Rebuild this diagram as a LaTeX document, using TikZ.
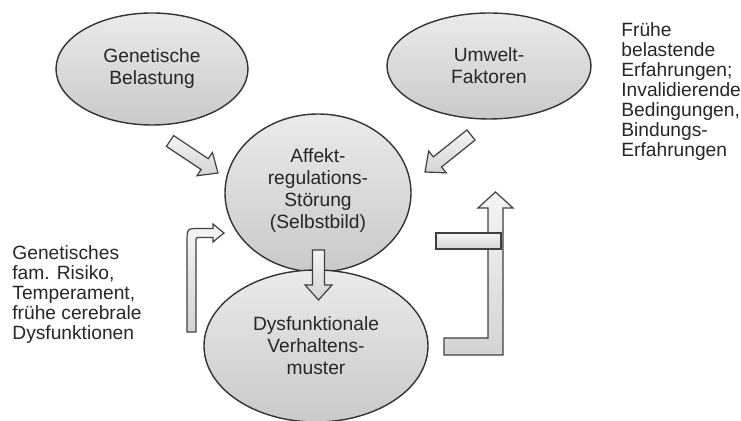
\documentclass[tikz,border=0pt]{standalone}
\usepackage{fontspec}
\setmainfont{Liberation Sans}
\usetikzlibrary{calc,shapes.geometric}

\tikzset{
  bubble/.style={ellipse, draw=black!80, line width=0.7pt, top color=gray!16, bottom color=gray!42,
    text=black!85, align=center, inner sep=0pt, font=\fontsize{9.6}{11}\selectfont},
  blockarrow/.style={draw=black!75, line width=0.6pt, top color=gray!8, bottom color=gray!34},
  sidetext/.style={align=left, inner sep=0pt, text=black!85, font=\fontsize{9.6}{10}\selectfont}
}

% block arrow: tail, tip, shaft half width, head half width, head length
\newcommand{\blockarrow}[5]{%
  \draw[blockarrow] ($(#1)!#3!90:(#2)$) -- ($(#2)!#5!(#1)!#3!90:(#2)$)
    -- ($(#2)!#5!(#1)!#4!90:(#2)$) -- (#2) -- ($(#2)!#5!(#1)!#4!-90:(#2)$)
    -- ($(#2)!#5!(#1)!#3!-90:(#2)$) -- ($(#1)!#3!-90:(#2)$) -- cycle;}

\begin{document}
\begin{tikzpicture}[x=0.5pt, y=-0.5pt]
  \useasboundingbox (0,0) rectangle (741,421);

  % Causes
  \node[bubble, minimum width=96pt, minimum height=56pt] (gen) at (152,69) {Genetische\\Belastung};
  \node[bubble, minimum width=102pt, minimum height=53pt] (umw) at (489,66) {Umwelt-\\Faktoren};

  % Core disturbance and behaviour
  \node[bubble, minimum width=93pt, minimum height=79pt] (aff) at (318,193) {\\[-7pt]Affekt-\\regulations-\\Störung\\(Selbstbild)};
  \node[bubble, minimum width=112pt, minimum height=76pt] (dys) at (316,346) {Dysfunktionale\\Verhaltens-\\muster};

  % Side texts
  \node[sidetext, anchor=west] (risk) at (12,295) {Genetisches\\fam. Risiko,\\Temperament,\\frühe cerebrale\\Dysfunktionen};
  \node[sidetext, anchor=west] (exp) at (621,92) {Frühe\\belastende\\Erfahrungen;\\Invalidierende\\Bedingungen,\\Bindungs-\\Erfahrungen};

  % Straight arrows
  \coordinate (genTail) at (170,141);
  \coordinate (genTip) at (218,173);
  \coordinate (umwTail) at (471,135);
  \coordinate (umwTip) at (425,172);
  \coordinate (affTail) at (318.5,250);
  \coordinate (affTip) at (318.5,300);
  \blockarrow{genTail}{genTip}{3.25pt}{7pt}{8pt}
  \blockarrow{umwTail}{umwTip}{3.25pt}{7pt}{8pt}
  \blockarrow{affTail}{affTip}{3pt}{6.75pt}{7.5pt}

  % Bent arrow from the left
  \coordinate (riskTip) at (224,233);
  \draw[blockarrow] (187,332) -- (187,243) .. controls (187,228.5) .. (199,228.5) -- (213,228.5)
    -- (213,224) -- (riskTip) -- (213,242) -- (213,237.5) -- (200,237.5)
    .. controls (196,237.5) .. (196,241.5) -- (196,332) -- cycle;

  % Feedback arrow on the right
  \coordinate (loopTip) at (495.5,192);
  \draw[blockarrow] (444,355) -- (444,338) -- (488,338) -- (488,208) -- (478,208) -- (loopTip)
    -- (513,208) -- (503,208) -- (503,355) -- cycle;
  \draw[blockarrow] (436,233) rectangle (501,249);
\end{tikzpicture}
\end{document}
